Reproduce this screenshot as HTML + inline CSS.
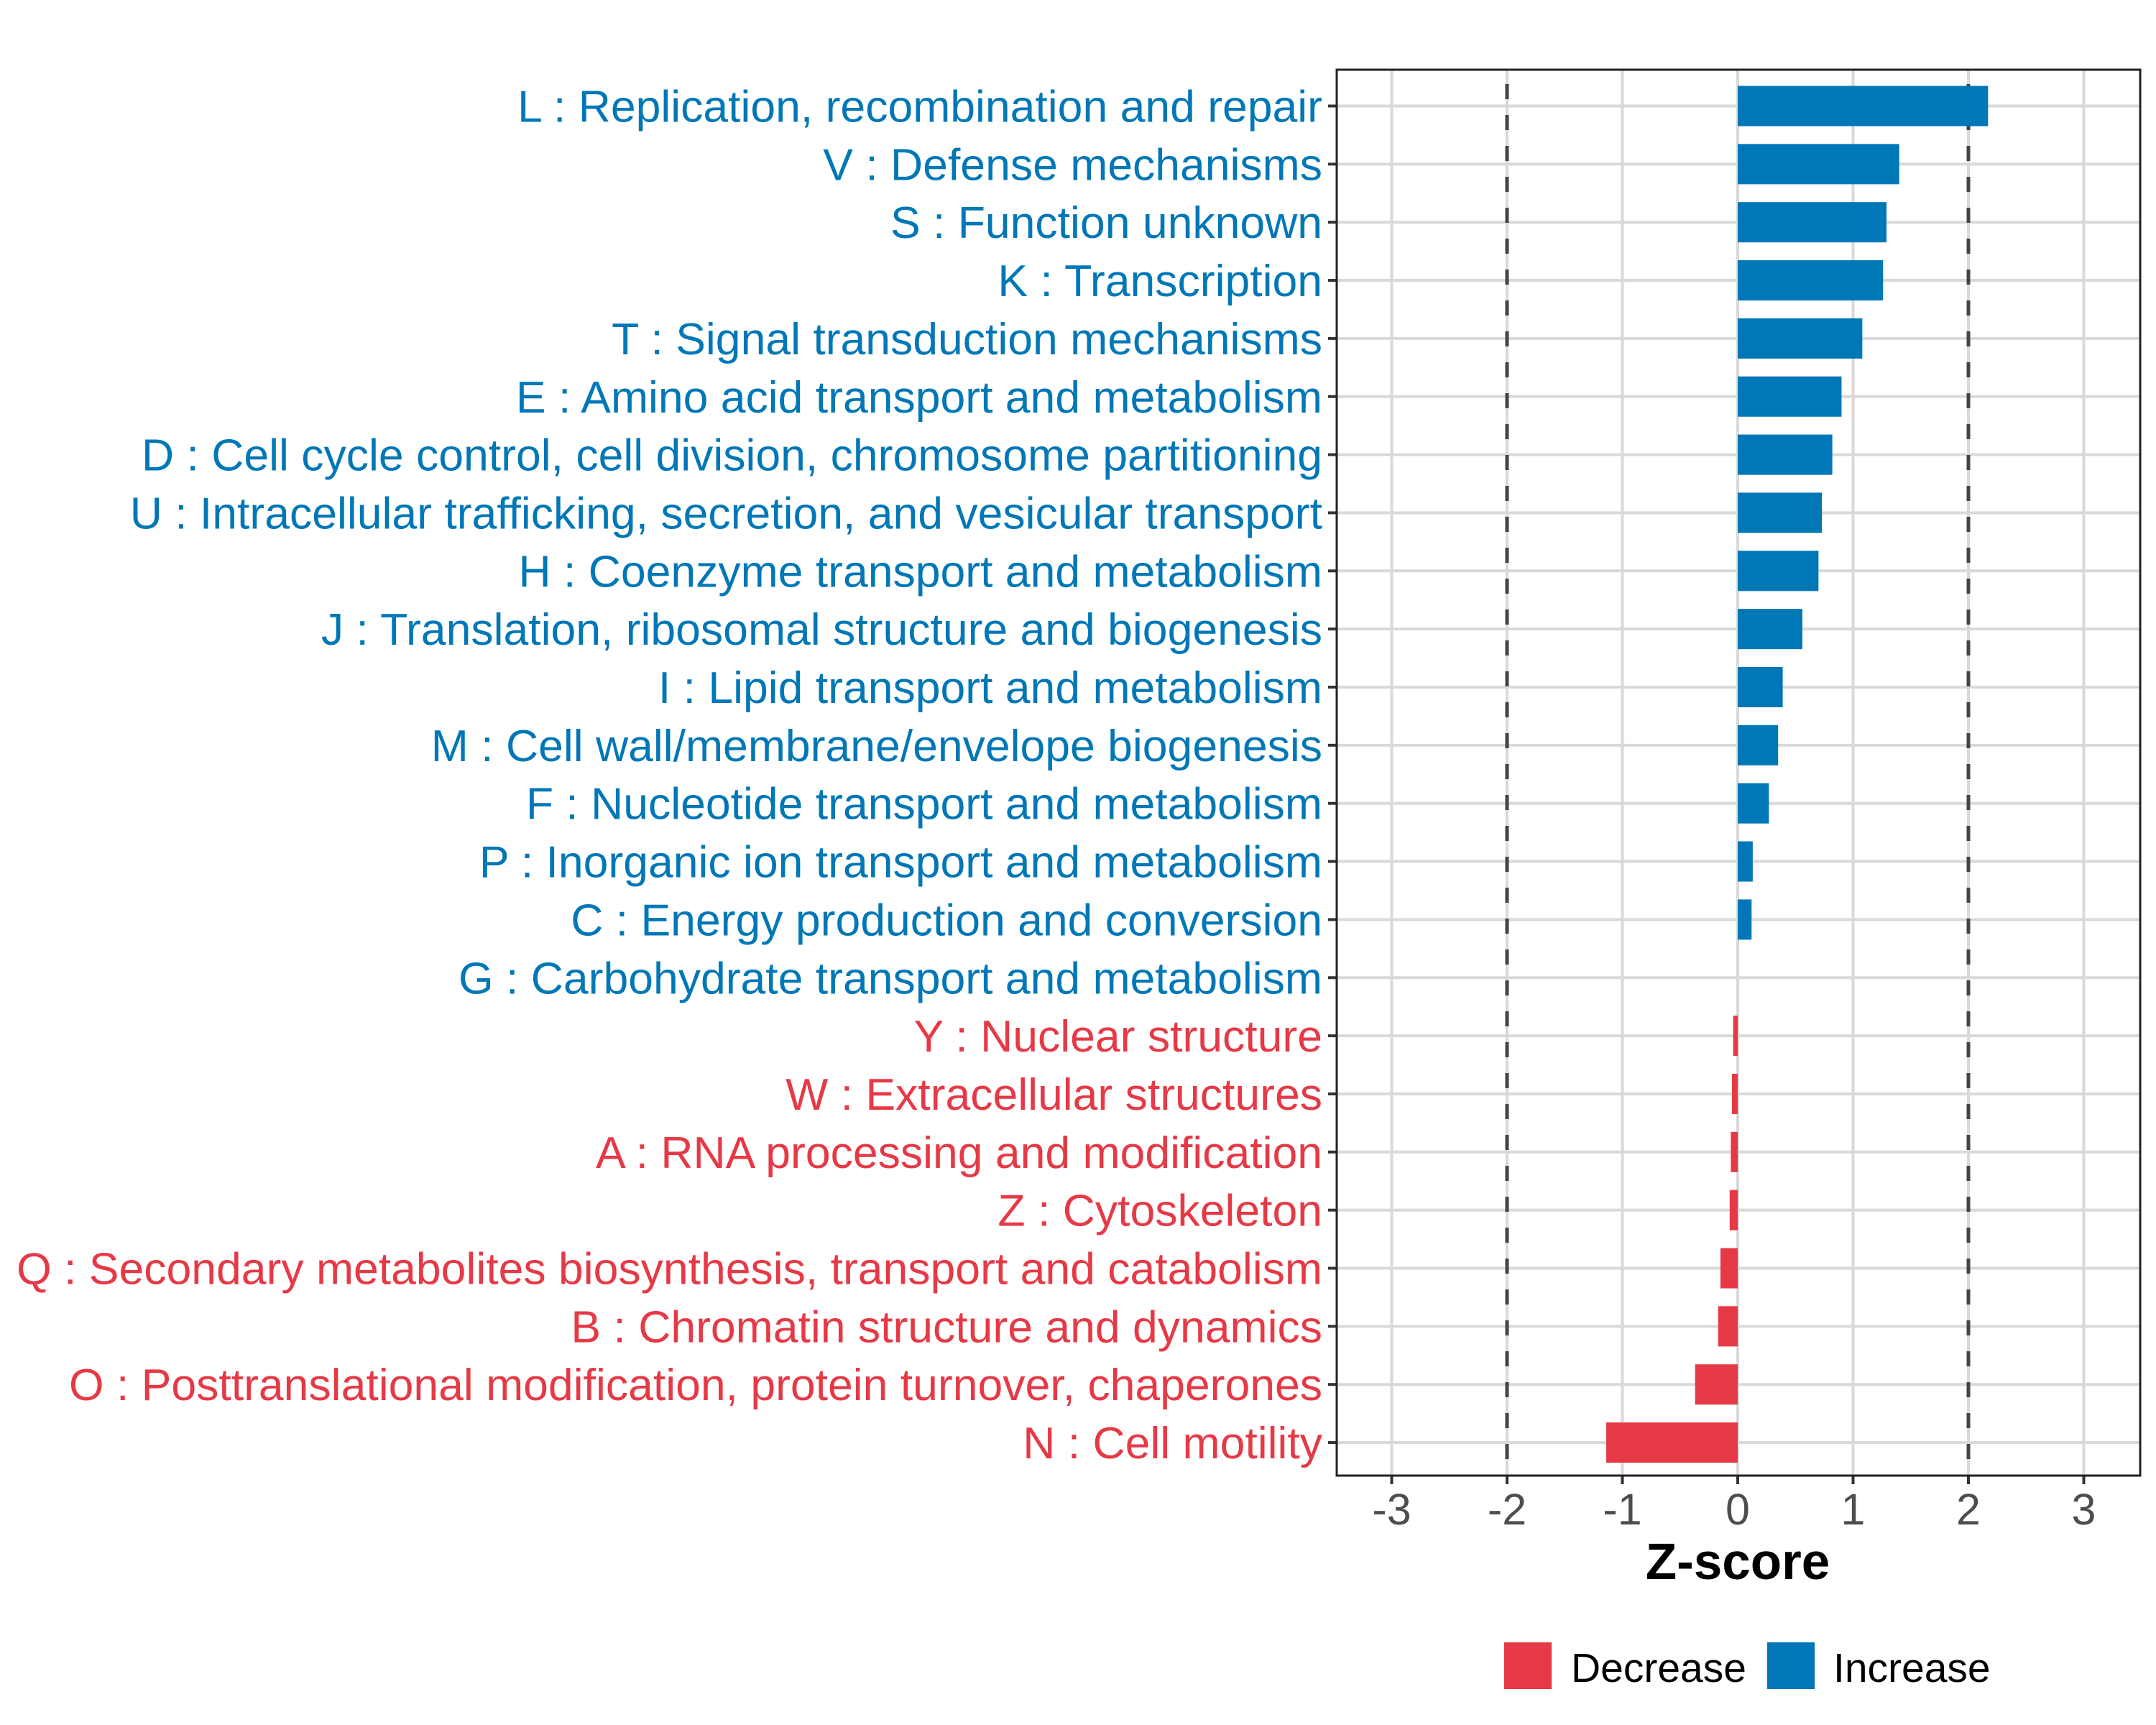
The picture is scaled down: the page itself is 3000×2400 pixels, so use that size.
<!DOCTYPE html>
<html><head><meta charset="utf-8"><style>
html,body{margin:0;padding:0;background:#fff;}
svg{display:block;font-family:"Liberation Sans",Arial,sans-serif;}
</style></head><body>
<svg id="chart" width="3000" height="2400" viewBox="0 0 3000 2400" xmlns="http://www.w3.org/2000/svg">
<rect x="0" y="0" width="3000" height="2400" fill="#fff"/>
<g id="grid"></g>
<g id="bars"></g>
<g id="ylabels"></g>
<g id="xticks"></g>
<rect x="1860" y="97" width="1118" height="1956" fill="none" stroke="#222" stroke-width="3"/>
<text x="2418" y="2197" text-anchor="middle" font-size="71" font-weight="bold" fill="#000">Z-score</text>
<g>
<rect x="2093" y="2285" width="66" height="65" fill="#E63946"/>
<text x="2186" y="2340" font-size="57" fill="#000">Decrease</text>
<rect x="2459" y="2285" width="66" height="65" fill="#0077B6"/>
<text x="2551" y="2340" font-size="57" fill="#000">Increase</text>
</g>
</svg>
<script>
const categories = ["L : Replication, recombination and repair","V : Defense mechanisms","S : Function unknown","K : Transcription","T : Signal transduction mechanisms","E : Amino acid transport and metabolism","D : Cell cycle control, cell division, chromosome partitioning","U : Intracellular trafficking, secretion, and vesicular transport","H : Coenzyme transport and metabolism","J : Translation, ribosomal structure and biogenesis","I : Lipid transport and metabolism","M : Cell wall/membrane/envelope biogenesis","F : Nucleotide transport and metabolism","P : Inorganic ion transport and metabolism","C : Energy production and conversion","G : Carbohydrate transport and metabolism","Y : Nuclear structure","W : Extracellular structures","A : RNA processing and modification","Z : Cytoskeleton","Q : Secondary metabolites biosynthesis, transport and catabolism","B : Chromatin structure and dynamics","O : Posttranslational modification, protein turnover, chaperones","N : Cell motility"];
const zscores = [2.17,1.40,1.29,1.26,1.08,0.90,0.82,0.73,0.70,0.56,0.39,0.35,0.27,0.13,0.12,0,-0.04,-0.05,-0.06,-0.07,-0.15,-0.17,-0.37,-1.14];
const xTicks = [-3,-2,-1,0,1,2,3];
const xTickLabels = ["-3","-2","-1","0","1","2","3"];
const thresholds = [-2,2];

const NS="http://www.w3.org/2000/svg";
const P={l:1860,r:2978,t:97,b:2053};
const X0=2418, XU=160.5;
function xs(v){return X0+v*XU;}
const Y0=147.5, YS=80.85;
function ys(i){return Y0+YS*i;}
function mk(t,a,p){const e=document.createElementNS(NS,t);for(const k in a)e.setAttribute(k,a[k]);p.appendChild(e);return e;}
const grid=document.getElementById('grid'),bars=document.getElementById('bars'),yl=document.getElementById('ylabels'),xt=document.getElementById('xticks');
xTicks.forEach((v,i)=>{
  const l=mk('line',{x1:xs(v),x2:xs(v),y1:P.t,y2:P.b,stroke:'#d9d9d9','stroke-width':4},grid);
  
  
  const tk=mk('line',{x1:xs(v),x2:xs(v),y1:P.b,y2:P.b+12,stroke:'#333','stroke-width':4},xt);
  
  
  const t=mk('text',{x:xs(v),y:P.b+68,'text-anchor':'middle','font-size':61,fill:'#4d4d4d'},xt);
  t.textContent=xTickLabels[i];
  
  
});
categories.forEach((c,i)=>{
  const y=ys(i);
  const l=mk('line',{x1:P.l,x2:P.r,y1:y,y2:y,stroke:'#d9d9d9','stroke-width':4},grid);
  
  
  const v=zscores[i];
  const col=v<0?'#E63946':'#0077B6';
  const bh=56;
  const b=mk('rect',{x:Math.min(xs(0),xs(v)),y:y-bh/2,width:Math.abs(xs(v)-xs(0)),height:bh,fill:col},bars);
  
  
  const tk=mk('line',{x1:P.l-12,x2:P.l,y1:y,y2:y,stroke:'#333','stroke-width':4},yl);
  
  
  const t=mk('text',{x:P.l-20,y:y+22,'text-anchor':'end','font-size':62.5,fill:col},yl);
  t.textContent=c;
  
  
});
thresholds.forEach(v=>{
  const l=mk('line',{x1:xs(v),x2:xs(v),y1:P.t+20,y2:P.b,stroke:'#444','stroke-width':5,'stroke-dasharray':'21 22'},grid);
  
  
});
</script>
</body></html>
